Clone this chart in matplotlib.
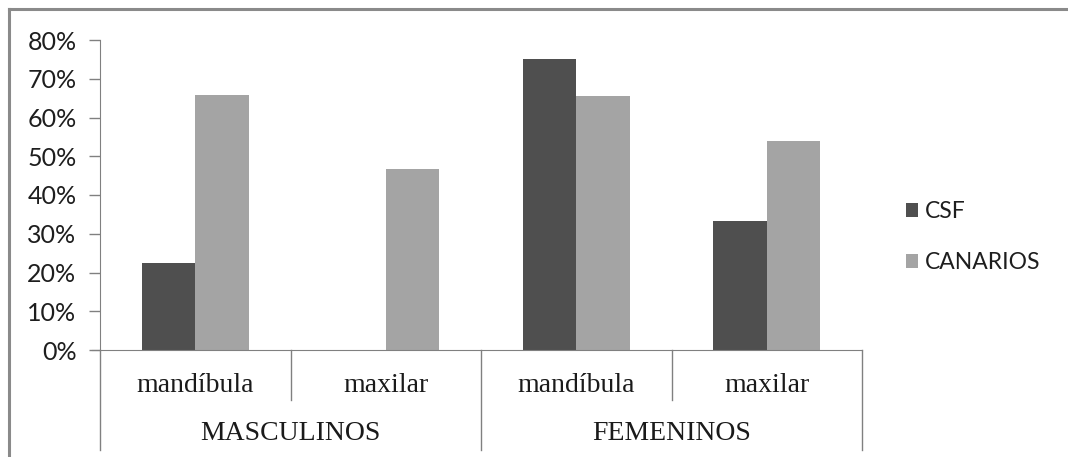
import numpy as np
import matplotlib
matplotlib.use("Agg")
import matplotlib.pyplot as plt
from matplotlib.lines import Line2D

# =====================================================
# DATA
# =====================================================

subcategories = ["mandíbula", "maxilar", "mandíbula", "maxilar"]
groups = ["MASCULINOS", "FEMENINOS"]

csf = [22.4, 0.0, 75.0, 33.2]
canarios = [65.8, 46.8, 65.5, 54.0]

series_names = ["CSF", "CANARIOS"]
colors = ["#4f4f4f", "#a4a4a4"]

# =====================================================
# FIGURE
# =====================================================

W, H = 1068, 457
fig = plt.figure(figsize=(W / 100, H / 100), dpi=100)

# outer chart border (top and left only, the image is cropped elsewhere)
fig.add_artist(Line2D([9 / W, 1.0], [(H - 9) / H] * 2, transform=fig.transFigure,
                      color="#8a8a8a", linewidth=2.2))
fig.add_artist(Line2D([9 / W] * 2, [0.0, (H - 9) / H], transform=fig.transFigure,
                      color="#8a8a8a", linewidth=2.2))

ax_left, ax_right = 100, 862
ax_top, ax_bottom = 40, 350
ax = fig.add_axes([ax_left / W, (H - ax_bottom) / H,
                   (ax_right - ax_left) / W, (ax_bottom - ax_top) / H])

x = np.arange(len(subcategories)) + 0.5
bw = 0.28

ax.bar(x - bw / 2, csf, width=bw, color=colors[0], label=series_names[0])
ax.bar(x + bw / 2, canarios, width=bw, color=colors[1], label=series_names[1])

ax.set_xlim(0, len(subcategories))
ax.set_ylim(0, 80)
ax.set_yticks(np.arange(0, 81, 10))
ax.set_yticklabels([f"{v}%" for v in range(0, 81, 10)],
                   fontfamily="Lato", fontsize=18, color="#1e1e1e")
ax.tick_params(axis="y", length=8, width=1, color="#808080", pad=9)
ax.set_xticks([])

for s in ["top", "right"]:
    ax.spines[s].set_visible(False)
ax.spines["left"].set_color("#808080")
ax.spines["bottom"].set_color("#808080")
ax.spines["bottom"].set_bounds(-8 / 190.5, 4)

# =====================================================
# MULTI-LEVEL CATEGORY AXIS
# =====================================================

trans = ax.get_xaxis_transform()
px = 1 / (ax_bottom - ax_top)

# short dividers between subcategories
for xv in [1, 3]:
    ax.plot([xv, xv], [0, -50 * px], transform=trans, color="#808080",
            linewidth=1, clip_on=False)
# long dividers between groups
for xv in [0, 2, 4]:
    ax.plot([xv, xv], [0, -100 * px], transform=trans, color="#808080",
            linewidth=1, clip_on=False)

for xv, lab in zip(x, subcategories):
    ax.text(xv, -35 * px, lab, transform=trans, ha="center", va="center",
            fontfamily="Liberation Serif", fontsize=20, color="#1a1a1a")

for i, g in enumerate(groups):
    ax.text(2 * i + 1, -83 * px, g, transform=trans, ha="center", va="center",
            fontfamily="Liberation Serif", fontsize=20, color="#1a1a1a")

# =====================================================
# LEGEND
# =====================================================

leg = fig.legend(loc="center left", bbox_to_anchor=(885 / W, (H - 237) / H),
                 frameon=False, handlelength=0.55, handleheight=0.55,
                 handletextpad=0.3, labelspacing=1.3,
                 prop={"family": "Lato", "size": 16.5})
for t in leg.get_texts():
    t.set_color("#1e1e1e")

plt.savefig("out.png", dpi=100)
